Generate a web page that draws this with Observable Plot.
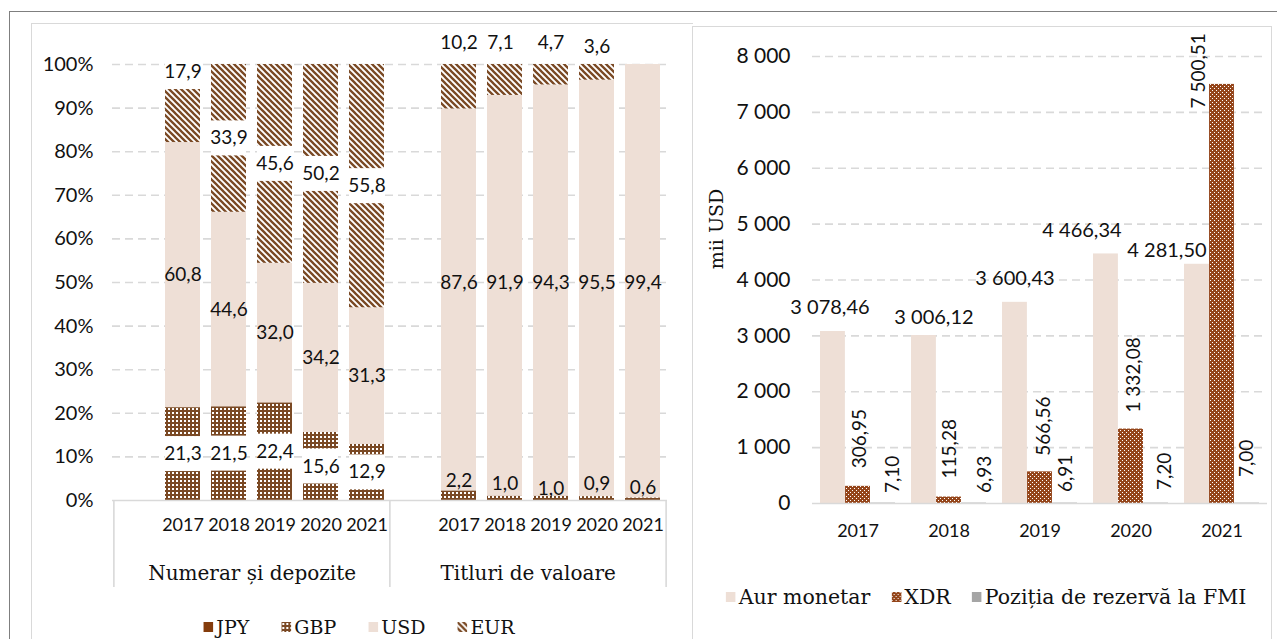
<!DOCTYPE html>
<html>
<head>
<meta charset="utf-8">
<script src="https://cdn.jsdelivr.net/npm/d3@7"></script>
<script src="https://cdn.jsdelivr.net/npm/@observablehq/plot@0.6"></script>
<style>
  html, body { margin: 0; padding: 0; background: #fff; }
  body { width: 1277px; height: 639px; overflow: hidden; position: relative; font-family: Lato, sans-serif; color: #111; }
  .line { position: absolute; }
  .chart { position: absolute; }
  .legend { position: absolute; display: flex; align-items: center; gap: 32px; transform: translateX(-50%);
            font-family: "DejaVu Serif", serif; font-size: 19px; white-space: nowrap; color: #111; }
  .legend .item { display: flex; align-items: center; gap: 3px; }
  .legend svg { display: block; }
</style>
</head>
<body>
<!-- fill patterns shared by bars and legend swatches -->
<svg width="0" height="0" style="position:absolute;left:0;top:0">
  <defs>
    <pattern id="pEUR" patternUnits="userSpaceOnUse" width="6" height="6">
      <rect width="6" height="6" fill="#fff"/>
      <path d="M-1,-1 L7,7 M-1,5 L1,7 M5,-1 L7,1" stroke="#7a4924" stroke-width="2.3"/>
    </pattern>
    <pattern id="pGBP" patternUnits="userSpaceOnUse" width="4" height="4">
      <rect width="4" height="4" fill="#7a4924"/>
      <rect x="1" y="1" width="2" height="2" fill="#fff"/>
    </pattern>
    <pattern id="pXDR" patternUnits="userSpaceOnUse" width="4" height="4" shape-rendering="crispEdges">
      <rect width="4" height="4" fill="#94451a"/>
      <rect x="0" y="0" width="1" height="1" fill="#fff"/>
      <rect x="2" y="2" width="1" height="1" fill="#fff"/>
    </pattern>
  </defs>
</svg>

<div class="line" style="left:10px;top:11px;width:1267px;height:0;border-top:1.5px solid #7f7f7f"></div>
<div class="line" style="left:9px;top:11px;width:0;height:628px;border-left:1.5px solid #7f7f7f"></div>
<div class="line" style="left:31px;top:23px;width:661px;height:620px;border:1px solid #d9d9d9;border-bottom:none;border-right:none"></div>
<div class="line" style="left:692px;top:26px;width:578px;height:620px;border:1px solid #d9d9d9;border-bottom:none"></div>

<div id="left" class="chart" style="left:31px;top:23px"></div>
<div id="right" class="chart" style="left:692px;top:26px"></div>

<div class="legend" style="left:359px;top:616px">
  <div class="item"><svg width="10" height="10"><rect width="10" height="10" fill="#843c0c"/></svg><span>JPY</span></div>
  <div class="item"><svg width="10" height="10"><rect width="10" height="10" fill="url(#pGBP)"/></svg><span>GBP</span></div>
  <div class="item"><svg width="10" height="10"><rect width="10" height="10" fill="#eedfd6"/></svg><span>USD</span></div>
  <div class="item"><svg width="10" height="10"><rect width="10" height="10" fill="url(#pEUR)"/></svg><span>EUR</span></div>
</div>
<div class="legend" style="left:986px;top:585px;gap:21px;font-size:20.5px">
  <div class="item"><svg width="10" height="10"><rect width="10" height="10" fill="#eedfd6"/></svg><span>Aur monetar</span></div>
  <div class="item"><svg width="10" height="10"><rect width="10" height="10" fill="url(#pXDR)"/></svg><span>XDR</span></div>
  <div class="item"><svg width="10" height="10"><rect width="10" height="10" fill="#a5a5a5"/></svg><span>Poziția de rezervă la FMI</span></div>
</div>

<script>
// ---------- data ----------
const years = ["2017", "2018", "2019", "2020", "2021"];
const currencies = ["JPY", "GBP", "USD", "EUR"];

// currency structure, % of each instrument
const numerarJPY = [0, 0, 0, 0, 0];
const numerarGBP = [21.3, 21.5, 22.4, 15.6, 12.9];
const numerarUSD = [60.8, 44.6, 32.0, 34.2, 31.3];
const numerarEUR = [17.9, 33.9, 45.6, 50.2, 55.8];

const titluriJPY = [0, 0, 0, 0, 0];
const titluriGBP = [2.2, 1.0, 1.0, 0.9, 0.6];
const titluriUSD = [87.6, 91.9, 94.3, 95.5, 99.4];
const titluriEUR = [10.2, 7.1, 4.7, 3.6, 0];

const pctTicks = [0, 10, 20, 30, 40, 50, 60, 70, 80, 90, 100];

// other reserve assets, thousand USD
const aurMonetar = [3078.46, 3006.12, 3600.43, 4466.34, 4281.50];
const xdr = [306.95, 115.28, 566.56, 1332.08, 7500.51];
const pozitiaFMI = [7.10, 6.93, 6.91, 7.20, 7.00];

const usdTicks = [0, 1000, 2000, 3000, 4000, 5000, 6000, 7000, 8000];

// ---------- shared styling ----------
const PINK = "#eedfd6";
const GRID = "#d9d9d9";
const INK = "#111";
const SERIF = "DejaVu Serif";
const fills = {JPY: "#843c0c", GBP: "url(#pGBP)", USD: PINK, EUR: "url(#pEUR)"};

const fmt1 = v => v.toFixed(1).replace(".", ",");
const loc = d3.formatLocale({decimal: ",", thousands: " ", grouping: [3], currency: ["", ""]});
const fmt2 = loc.format(",.2f");
const fmt0 = loc.format(",.0f");

// ---------- left chart: structure by currency ----------
const groups = [
  {id: "N", name: "Numerar și depozite", JPY: numerarJPY, GBP: numerarGBP, USD: numerarUSD, EUR: numerarEUR},
  {id: "T", name: "Titluri de valoare", JPY: titluriJPY, GBP: titluriGBP, USD: titluriUSD, EUR: titluriEUR}
];
// each group opens with an empty slot, then one slot per year
const xKeys = groups.flatMap(g => [g.id, ...years.map(y => g.id + y)]);

const segments = [];
for (const g of groups) {
  years.forEach((yr, i) => {
    let base = 0;
    for (const c of currencies) {
      const v = g[c][i];
      segments.push({key: g.id + yr, currency: c, y1: base, y2: base + v, value: v});
      base += v;
    }
  });
}

const LW = 661, LH = 616;
const L_ML = 81, L_MR = 25, L_MT = 41, L_MB = 139;
const frameW = LW - L_ML - L_MR;
const step = frameW / xKeys.length;
const pxPerPct = (LH - L_MT - L_MB) / 100;
const boxHalf = 17.5 / pxPerPct;

// label placement: [dx, dy] pixel nudges
const labelNudge = {"N2017-EUR": [0, -31.5],
  "T2017-EUR": [0, -21.3], "T2018-EUR": [-4.5, -21.7], "T2019-EUR": [0, -21.3], "T2020-EUR": [0, -17.3],
  "T2017-GBP": [0, -20], "T2018-GBP": [0, -17], "T2019-GBP": [0, -12], "T2020-GBP": [0, -17], "T2021-GBP": [0, -13]};

const labels = [];
for (const s of segments) {
  if (s.value <= 0) continue;
  const id = s.key + "-" + s.currency;
  const [dx, dy] = labelNudge[id] || [0, 0];
  let y = (s.y1 + s.y2) / 2, box = false;
  if (s.key[0] === "N") {
    box = s.currency !== "USD";
  } else {
    if (s.currency === "EUR") y = 100;
    if (s.currency === "GBP") y = 0;
    if (s.currency === "USD") y = 50;
  }
  labels.push({key: s.key, y, dx, dy, box, text: fmt1(s.value)});
}

const leftMarks = [
  Plot.ruleY(pctTicks.filter(d => d > 0), {stroke: GRID, strokeWidth: 1.6, strokeDasharray: "8,5"}),
  ...currencies.map(c => Plot.barY(segments.filter(s => s.currency === c && s.value > 0),
    {x: "key", y1: "y1", y2: "y2", fill: fills[c]})),
  ...labels.filter(d => d.box).map(d => Plot.barY([d],
    {x: "key", y1: v => v.y - boxHalf, y2: v => v.y + boxHalf, fill: "white", dy: d.dy})),
  ...labels.map(d => Plot.text([d],
    {x: "key", y: "y", text: "text", dx: d.dx, dy: d.dy, fontSize: 19, fill: INK})),
  Plot.ruleY([0], {stroke: GRID, strokeWidth: 1.6}),
  Plot.ruleX(["N", "T"], {x: d => d, dx: -step / 2, y1: 0, y2: -87 / pxPerPct, stroke: GRID, strokeWidth: 1.6}),
  Plot.ruleX(["T2021"], {x: d => d, dx: step / 2, y1: 0, y2: -87 / pxPerPct, stroke: GRID, strokeWidth: 1.6}),
  Plot.text(pctTicks, {y: d => d, text: d => d + "%", frameAnchor: "left", textAnchor: "end", dx: -19, fontSize: 20, fill: INK}),
  Plot.text(xKeys.filter(k => k.length > 1), {x: d => d, y: 0, text: d => d.slice(1), dy: 25, fontSize: 18, fill: INK}),
  Plot.text(groups, {x: g => g.id + years[1], y: 0, text: "name", dx: step / 2, dy: 73, fontFamily: SERIF, fontSize: 20, fill: INK})
];

const left = Plot.plot({
  width: LW, height: LH,
  marginLeft: L_ML, marginRight: L_MR, marginTop: L_MT, marginBottom: L_MB,
  x: {type: "band", domain: xKeys, paddingInner: 0.24, paddingOuter: 0.12, axis: null},
  y: {domain: [0, 100], axis: null},
  style: {background: "transparent", fontFamily: "Lato", fontSize: "19px", overflow: "visible"},
  marks: leftMarks
});
document.getElementById("left").appendChild(left);

// ---------- right chart: other reserve assets ----------
const RW = 578, RH = 613;
const R_ML = 120, R_MR = 3, R_MT = 30, R_MB = 136;
const pIn = 0.1758, pOut = 0.0824;
const rStep = (RW - R_ML - R_MR) / (years.length - pIn + 2 * pOut);
const third = rStep * (1 - pIn) / 3;

const aurRows = years.map((year, i) => ({year, v: aurMonetar[i]}));
const xdrRows = years.map((year, i) => ({year, v: xdr[i]}));
const fmiRows = years.map((year, i) => ({year, v: pozitiaFMI[i]}));

// label placement: [dx, dy] pixel nudges per year
const aurNudge = [[-3, -24], [10, -18], [0, -24], [-24, -23], [-30, -14]];
const xdrNudge = [[2, -18], [1, -18.6], [4, -16], [3, -16.5], [-23, 24]];
const fmiNudge = [[10, -10], [11, -10], [1, -11], [9, -13], [0, -26]];

const rightMarks = [
  Plot.ruleY(usdTicks.filter(d => d > 0), {stroke: GRID, strokeWidth: 1.6, strokeDasharray: "8,5"}),
  Plot.barY(aurRows, {x: "year", y: "v", fill: PINK, insetRight: 2 * third}),
  Plot.barY(xdrRows, {x: "year", y: "v", fill: "url(#pXDR)", insetLeft: third, insetRight: third}),
  Plot.barY(fmiRows, {x: "year", y: "v", fill: "#a5a5a5", insetLeft: 2 * third}),
  Plot.ruleY([0], {stroke: GRID, strokeWidth: 1.6}),
  ...aurRows.map((d, i) => Plot.text([d], {x: "year", y: "v", text: r => fmt2(r.v),
    dx: -third + aurNudge[i][0], dy: aurNudge[i][1], fontSize: 20, fill: INK})),
  ...xdrRows.map((d, i) => Plot.text([d], {x: "year", y: "v", text: r => fmt2(r.v), rotate: -90, textAnchor: "start",
    dx: xdrNudge[i][0], dy: xdrNudge[i][1], fontSize: 19, fill: INK})),
  ...fmiRows.map((d, i) => Plot.text([d], {x: "year", y: "v", text: r => fmt2(r.v), rotate: -90, textAnchor: "start",
    dx: third + fmiNudge[i][0], dy: fmiNudge[i][1], fontSize: 19, fill: INK})),
  Plot.text(usdTicks, {y: d => d, text: d => fmt0(d), frameAnchor: "left", textAnchor: "end", dx: -22, fontSize: 21, fill: INK}),
  Plot.text(years, {x: d => d, y: 0, text: d => d, dy: 28, fontSize: 18, fill: INK}),
  Plot.text(["mii USD"], {text: d => d, frameAnchor: "left", textAnchor: "middle", dx: -96, dy: -51, rotate: -90,
    fontFamily: SERIF, fontSize: 19, fill: INK})
];

const right = Plot.plot({
  width: RW, height: RH,
  marginLeft: R_ML, marginRight: R_MR, marginTop: R_MT, marginBottom: R_MB,
  x: {type: "band", domain: years, paddingInner: pIn, paddingOuter: pOut, axis: null},
  y: {domain: [0, 8000], axis: null},
  style: {background: "transparent", fontFamily: "Lato", fontSize: "19px", overflow: "visible"},
  marks: rightMarks
});
document.getElementById("right").appendChild(right);
</script>
</body>
</html>
